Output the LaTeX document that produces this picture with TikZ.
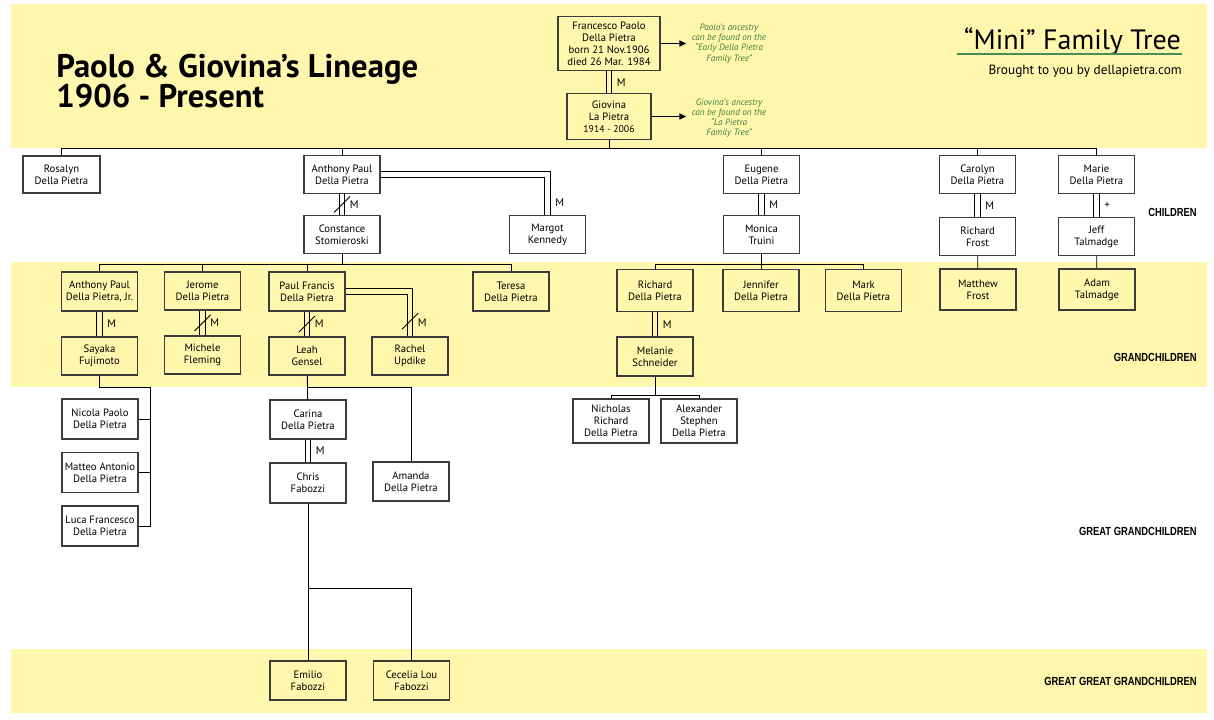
\documentclass[tikz,border=0pt]{standalone}
\usepackage{fontspec}
\setmainfont{PT Sans}
\newfontfamily\condfont[FakeStretch=0.8]{Liberation Sans}
\usetikzlibrary{arrows.meta}

\definecolor{band}{RGB}{255,247,173}
\definecolor{boxline}{RGB}{60,60,60}
\definecolor{notegreen}{RGB}{63,128,63}
\definecolor{rulegreen}{RGB}{72,140,88}

\newcommand{\datesz}{\fontsize{7.3}{8.3}\selectfont}

\tikzset{
  person/.style={draw=boxline, line width=0.8pt, minimum width=57pt, minimum height=28.5pt,
    inner sep=1pt, align=center, font=\fontsize{8}{9}\selectfont},
  link/.style={line width=0.65pt},
  marr/.style={line width=0.65pt, double=white, double distance=3.5pt},
  marry/.style={marr, double=band},
  mlab/.style={font=\fontsize{8.3}{8.5}\selectfont, inner sep=1pt},
  cut/.style={line width=0.7pt},
  note/.style={font=\fontsize{6.9}{7.6}\selectfont\itshape, text=notegreen, align=center, inner sep=1pt},
  gen/.style={font=\condfont\bfseries\fontsize{8.8}{10}\selectfont, anchor=east, inner sep=0pt},
  pointer/.style={line width=0.65pt, -{Triangle[length=5pt,width=4.5pt]}, shorten >=3pt}
}

\begin{document}
\begin{tikzpicture}[x=0.75pt,y=0.75pt,yscale=-1,xscale=1]
\useasboundingbox (0,0) rectangle (1214,720);
\fill[white] (0,0) rectangle (1214,720);
\fill[band] (11,4) rectangle (1207,148.5);
\fill[band] (11,262.5) rectangle (1207,387);
\fill[band] (11,649) rectangle (1207,713);

\node[anchor=base west, font=\bfseries\fontsize{24.5}{26}\selectfont, inner sep=0pt] (tl1) at (56,78) {Paolo \& Giovina’s Lineage};
\node[anchor=base west, font=\bfseries\fontsize{24.5}{26}\selectfont, inner sep=0pt] (tl2) at (56,108) {1906 - Present};
\node[anchor=base east, font=\fontsize{21}{24}\selectfont, inner sep=0pt] (mft) at (1181,50) {“Mini” Family Tree};
\draw[rulegreen, line width=1.5pt] (957,54.5) -- (1182,54.5);
\node[anchor=base east, font=\fontsize{10}{12}\selectfont, inner sep=0pt] (web) at (1182,75) {Brought to you by dellapietra.com};

\node[person, minimum width=76.5pt, minimum height=41pt] (fp) at (609,43.5) {Francesco Paolo\\Della Pietra\\born 21 Nov.1906\\died 26 Mar. 1984};
\node[person, minimum width=63pt, minimum height=34pt] (gl) at (609,116.5) {Giovina\\La Pietra\\{\datesz 1914 - 2006}};
\node[note] (pn) at (729,43.5) {Paolo’s ancestry\\can be found on the\\“Early Della Pietra\\Family Tree”};
\node[note] (gn) at (729,118) {Giovina’s ancestry\\can be found on the\\“La Pietra\\Family Tree”};

\node[person, minimum width=57.75pt, minimum height=27.75pt] (rd) at (61.5,174.5) {Rosalyn\\Della Pietra};
\node[person] (ap) at (342,174.5) {Anthony Paul\\Della Pietra};
\node[person] (cs) at (342,234.5) {Constance\\Stomieroski};
\node[person] (mk) at (547.5,234.5) {Margot\\Kennedy};
\node[person] (ed) at (761.5,174.5) {Eugene\\Della Pietra};
\node[person] (mt) at (761.5,234.5) {Monica\\Truini};
\node[person] (cd) at (977.5,174.5) {Carolyn\\Della Pietra};
\node[person] (rf) at (977.5,236.5) {Richard\\Frost};
\node[person] (md) at (1096.5,174.5) {Marie\\Della Pietra};
\node[person] (jt) at (1096.5,236.5) {Jeff\\Talmadge};

\node[person, minimum height=29.25pt] (aj) at (99.5,291.5) {Anthony Paul\\Della Pietra, Jr.};
\node[person] (sf) at (99.5,356) {Sayaka\\Fujimoto};
\node[person] (jd) at (202.5,291) {Jerome\\Della Pietra};
\node[person] (mf) at (202.5,355) {Michele\\Fleming};
\node[person, minimum height=29.25pt] (pf) at (307,291.5) {Paul Francis\\Della Pietra};
\node[person] (lg) at (307,356) {Leah\\Gensel};
\node[person] (ru) at (410,356) {Rachel\\Updike};
\node[person, minimum height=29.25pt] (tr) at (511,291.5) {Teresa\\Della Pietra};
\node[person, minimum height=31.5pt] (rdp) at (655,290.5) {Richard\\Della Pietra};
\node[person, minimum height=31.5pt] (jf) at (761,290.5) {Jennifer\\Della Pietra};
\node[person, minimum height=31.5pt] (mkd) at (863.5,290.5) {Mark\\Della Pietra};
\node[person, minimum height=29.25pt] (ms) at (655,356.5) {Melanie\\Schneider};
\node[person, minimum height=30.75pt] (mfr) at (978,289.5) {Matthew\\Frost};
\node[person, minimum height=30.75pt] (adt) at (1097,289.5) {Adam\\Talmadge};

\node[person, minimum height=33pt] (nr) at (611,421) {Nicholas\\Richard\\Della Pietra};
\node[person, minimum height=33pt] (as) at (699,421) {Alexander\\Stephen\\Della Pietra};
\node[person, minimum height=30pt] (np) at (100,419) {Nicola Paolo\\Della Pietra};
\node[person, minimum height=30pt] (ma) at (100,472.5) {Matteo Antonio\\Della Pietra};
\node[person, minimum height=30pt] (lf) at (100,526) {Luca Francesco\\Della Pietra};
\node[person, minimum height=29.25pt] (cdp) at (308,419.5) {Carina\\Della Pietra};
\node[person, minimum height=30pt] (cf) at (308,483) {Chris\\Fabozzi};
\node[person, minimum height=29.25pt] (ad) at (411,481.5) {Amanda\\Della Pietra};
\node[person, minimum height=29.25pt] (ef) at (308,680.5) {Emilio\\Fabozzi};
\node[person, minimum height=29.25pt] (cl) at (411.5,680.5) {Cecelia Lou\\Fabozzi};

\node[gen] (g1) at (1197,212) {CHILDREN};
\node[gen] (g2) at (1197,357) {GRANDCHILDREN};
\node[gen] (g3) at (1197,531) {GREAT GRANDCHILDREN};
\node[gen] (g4) at (1197,681) {GREAT GREAT GRANDCHILDREN};

\draw[pointer] (fp) -- (pn);
\draw[pointer] (gl.east) -- (gl.east -| pn.west);

\draw[marry] (fp) -- node[mlab, right=4.5pt, pos=0.5] (m0) {M} (gl);
\coordinate (kbus) at (609,148.5);
\draw[link] (gl) -- (kbus);
\draw[link] (rd.north) |- (kbus) -| (md.north);
\draw[link] (ap) -- (ap |- kbus);
\draw[link] (ed) -- (ed |- kbus);
\draw[link] (cd) -- (cd |- kbus);

\draw[marr] (ap) -- coordinate[pos=0.5] (apx) node[mlab, right=4.5pt, pos=0.5] (m1) {M} (cs);
\draw[cut] (apx) +(-8,8) -- +(8,-8);
\draw[marr] (ap.east) -| node[mlab, right=4.5pt, pos=0.85] (m2) {M} (mk.north);
\draw[marr] (ed) -- node[mlab, right=4.5pt, pos=0.5] (m3) {M} (mt);
\draw[marr] (cd) -- node[mlab, right=4.5pt, pos=0.5] (m4) {M} (rf);
\draw[marr] (md) -- node[mlab, right=4.5pt, pos=0.5] (m5) {+} (jt);

\path (cs.south) ++(0,10) coordinate (cbus);
\draw[link] (cs) -- (cbus);
\draw[link] (aj.north) |- (cbus) -| (tr.north);
\draw[link] (jd) -- (jd |- cbus);
\draw[link] (pf) -- (pf |- cbus);

\path (mt.south) ++(0,10) coordinate (mbus);
\draw[link] (mt) -- (mbus);
\draw[link] (rdp.north) |- (mbus) -| (mkd.north);
\draw[link] (jf) -- (jf |- mbus);
\draw[link] (rf) -- (mfr);
\draw[link] (jt) -- (adt);

\draw[marry] (aj) -- node[mlab, right=4.5pt, pos=0.5] (m6) {M} (sf);
\draw[marry] (jd) -- coordinate[pos=0.5] (jdx) node[mlab, right=4.5pt, pos=0.5] (m7) {M} (mf);
\draw[cut] (jdx) +(-8,8) -- +(8,-8);
\draw[marry] (pf) -- coordinate[pos=0.5] (pfx) node[mlab, right=4.5pt, pos=0.5] (m8) {M} (lg);
\draw[cut] (pfx) +(-8,8) -- +(8,-8);
\draw[marry] (pf.east) -| coordinate[pos=0.83] (pfy) node[mlab, right=4.5pt, pos=0.85] (m9) {M} (ru.north);
\draw[cut] (pfy) +(-8,8) -- +(8,-8);
\draw[marry] (rdp) -- node[mlab, right=4.5pt, pos=0.5] (m10) {M} (ms);

\path (ms.south) ++(0,19) coordinate (nbus);
\draw[link] (ms) -- (nbus);
\draw[link] (nr.north) |- (nbus) -| (as.north);

\coordinate (srail) at (150,387);
\draw[link] (sf.south) |- (srail) -- (srail |- lf.east) -- (lf.east);
\draw[link] (np.east) -- (np.east -| srail);
\draw[link] (ma.east) -- (ma.east -| srail);

\path (lg.south) ++(0,12) coordinate (lbus);
\draw[link] (lg) -- (cdp);
\draw[link] (lbus) -| (ad.north);
\draw[marr] (cdp) -- node[mlab, right=4.5pt, pos=0.5] (m11) {M} (cf);

\path (cf.south) ++(0,85) coordinate (fbus);
\draw[link] (cf) -- (ef);
\draw[link] (fbus) -| (cl.north);
\end{tikzpicture}
\end{document}
